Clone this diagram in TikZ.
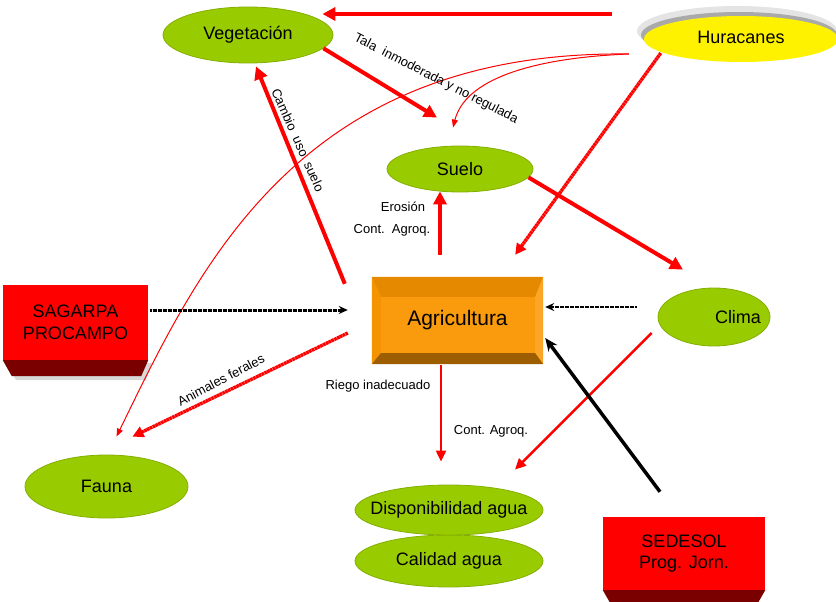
\documentclass[tikz,border=0pt]{standalone}
\usepackage{fontspec}
\setmainfont{Liberation Sans}
\usetikzlibrary{arrows.meta,shapes.geometric}

\definecolor{leaf}{HTML}{99CC00}
\definecolor{leafedge}{HTML}{84AE00}
\definecolor{hotred}{HTML}{FF0000}
\definecolor{deepred}{HTML}{7A0000}
\definecolor{agface}{HTML}{F99B0C}
\definecolor{agtop}{HTML}{E58A00}
\definecolor{agbottom}{HTML}{9C5E00}
\definecolor{agleft}{HTML}{F39400}
\definecolor{agright}{HTML}{FBA626}
\definecolor{haloout}{HTML}{E4E4E4}
\definecolor{haloin}{HTML}{A9A9A9}

% fixed-size ellipse: the text box takes no width so only the minimum size counts
\newcommand{\tagtext}[1]{\makebox[0pt]{#1}}

\tikzset{
  topic/.style={ellipse, fill=leaf, draw=leafedge, line width=0.8pt, inner sep=0pt,
    font=\fontsize{18}{21}\selectfont},
  redbox/.style={rectangle, fill=hotred, inner sep=0pt, align=center,
    font=\fontsize{18}{21.5}\selectfont},
  lbl/.style={font=\fontsize{13}{15}\selectfont, inner sep=0pt},
  bigred/.style={draw=hotred, line width=4pt, -{Triangle[length=13pt,width=13pt]}},
  midred/.style={draw=hotred, line width=2.6pt, -{Triangle[length=11pt,width=10pt]}},
  thinred/.style={draw=hotred, line width=1pt, -{Triangle[length=8pt,width=6pt]}},
  dotred/.style={draw=hotred, line width=3.4pt, dash pattern=on 2.6pt off 0.5pt,
    -{Triangle[length=11pt,width=11pt]}},
  dotblack/.style={draw=black, line width=2.4pt, dash pattern=on 1.8pt off 0.7pt,
    -{Stealth[length=9pt,width=8pt]}},
  solidblack/.style={draw=black, line width=3.5pt, -{Stealth[length=13pt,width=11pt]}},
}

\begin{document}
\begin{tikzpicture}[x=1pt,y=-1pt]
\useasboundingbox (0,0) rectangle (836,602);

% ---- hurricane halo and node
\fill[haloout] (737,31) ellipse [x radius=100pt, y radius=25pt];
\fill[haloin] (739,35) ellipse [x radius=98pt, y radius=23pt];
\node[ellipse, fill=yellow, inner sep=0pt, minimum width=194pt, minimum height=46pt,
  font=\fontsize{18}{21}\selectfont] (hur) at (741,39) {\tagtext{\raisebox{3pt}{Huracanes}}};

% ---- green topics
\node[topic, minimum width=170pt, minimum height=56pt] (veg) at (248,35) {\tagtext{Vegetación}};
\node[topic, minimum width=146pt, minimum height=46pt] (suelo) at (460,169) {\tagtext{Suelo}};
\node[topic, minimum width=112pt, minimum height=58pt] (clima) at (714,317) {\tagtext{\hspace*{48pt}Clima}};
\node[topic, minimum width=163pt, minimum height=63pt] (fauna) at (106.5,486.5) {\tagtext{Fauna}};
\node[topic, minimum width=188pt, minimum height=52pt] (cal) at (449,561) {\tagtext{Calidad agua}};
\node[topic, minimum width=188pt, minimum height=50pt] (disp) at (449,510) {\tagtext{Disponibilidad agua}};

% ---- agriculture block with bevelled edges
\node[rectangle, fill=agface, inner sep=0pt, minimum width=171pt, minimum height=87pt,
  font=\fontsize{21}{24}\selectfont] (agri) at (457.5,320.5) {\raisebox{4pt}{Agricultura}};
\fill[agtop] (agri.north west) -- (agri.north east) -- ([xshift=-8pt,yshift=-20pt]agri.north east)
  -- ([xshift=9pt,yshift=-20pt]agri.north west) -- cycle;
\fill[agleft] (agri.north west) -- ([xshift=9pt,yshift=-20pt]agri.north west)
  -- ([xshift=9pt,yshift=11pt]agri.south west) -- (agri.south west) -- cycle;
\fill[agright] (agri.north east) -- ([xshift=-8pt,yshift=-20pt]agri.north east)
  -- ([xshift=-8pt,yshift=11pt]agri.south east) -- (agri.south east) -- cycle;
\fill[agbottom] ([xshift=9pt,yshift=11pt]agri.south west) -- ([xshift=-8pt,yshift=11pt]agri.south east)
  -- (agri.south east) -- (agri.south west) -- cycle;

% ---- programme boxes
\fill[black!25, opacity=0.6] (6,363) -- (152,363) -- (146,380) -- (16,380) -- cycle;
\node[redbox, minimum width=145pt, minimum height=75pt] (sag) at (75.5,322.5) {SAGARPA\\PROCAMPO};
\fill[deepred] (sag.south west) -- (sag.south east) -- ([xshift=-7pt,yshift=-16pt]sag.south east)
  -- ([xshift=9pt,yshift=-16pt]sag.south west) -- cycle;

\node[redbox, minimum width=162pt, minimum height=73pt] (sed) at (684,553.5) {SEDESOL\\Prog. Jorn.};
\fill[deepred] (sed.south west) -- (sed.south east) -- ([xshift=-8pt,yshift=-14pt]sed.south east)
  -- ([xshift=8pt,yshift=-14pt]sed.south west) -- cycle;

% ---- connectors
\draw[bigred] ([xshift=-32pt,yshift=25pt]hur.west) -- ([xshift=-11pt,yshift=21pt]veg.east);
\draw[thinred] ([xshift=-15pt,yshift=-15pt]hur.west) .. controls (300,50) and (200,265)
  .. ([xshift=10pt,yshift=18pt]fauna.north);
\draw[thinred] ([xshift=-15pt,yshift=-15pt]hur.west) .. controls (530,58) and (465,80)
  .. ([xshift=-7pt,yshift=18pt]suelo.north);
\draw[bigred] (veg.-10) -- ([xshift=-23pt,yshift=28pt]suelo.north);
\draw[bigred] ([xshift=-27pt,yshift=-7pt]agri.north west) -- ([xshift=8pt,yshift=-3pt]veg.south);
\draw[bigred] ([xshift=-17.5pt,yshift=22pt]agri.north) -- ([xshift=-20pt,yshift=1pt]suelo.south);
\draw[bigred] (suelo.-7) -- ([xshift=-31pt,yshift=18pt]clima.north);
\draw[dotred] ([xshift=17pt,yshift=-14pt]hur.west) -- ([xshift=-28pt,yshift=22pt]agri.north east);
\draw[midred] ([xshift=-6pt,yshift=-16pt]clima.west) -- ([xshift=66pt,yshift=15pt]disp.north);
\draw[midred, line width=2pt] ([xshift=-16.5pt,yshift=-1pt]agri.south) -- ([xshift=-8pt,yshift=23pt]disp.north);
\draw[dotred] ([xshift=-24pt,yshift=-12.5pt]agri.west) -- ([xshift=26pt,yshift=18pt]fauna.north);
\draw[dotblack, line width=3pt] ([xshift=2pt,yshift=12.5pt]sag.east) -- ([xshift=-24pt,yshift=10.5pt]agri.west);
\draw[dotblack] ([xshift=-21pt,yshift=10pt]clima.west) -- ([xshift=2pt,yshift=13.5pt]agri.east);
\draw[solidblack] ([xshift=-24pt,yshift=25pt]sed.north) -- ([xshift=2pt,yshift=-17.5pt]agri.east);

% ---- connector labels
\node[lbl, rotate=-27] (talaLbl) at (436,79) {Tala\ \ inmoderada y no regulada};
\node[lbl, rotate=-66] (cambioLbl) at (298,140) {Cambio\ \ uso\ \ suelo};
\node[lbl, rotate=27.6] (feralLbl) at (221,380) {Animales ferales};
\node[lbl] (erosLbl) at (403,207) {Erosión};
\node[lbl] (agroqA) at (392,230) {Cont.\ \ Agroq.};
\node[lbl] (riegoLbl) at (378,386) {Riego inadecuado};
\node[lbl] (agroqB) at (491,431) {Cont. Agroq.};
\end{tikzpicture}
\end{document}
